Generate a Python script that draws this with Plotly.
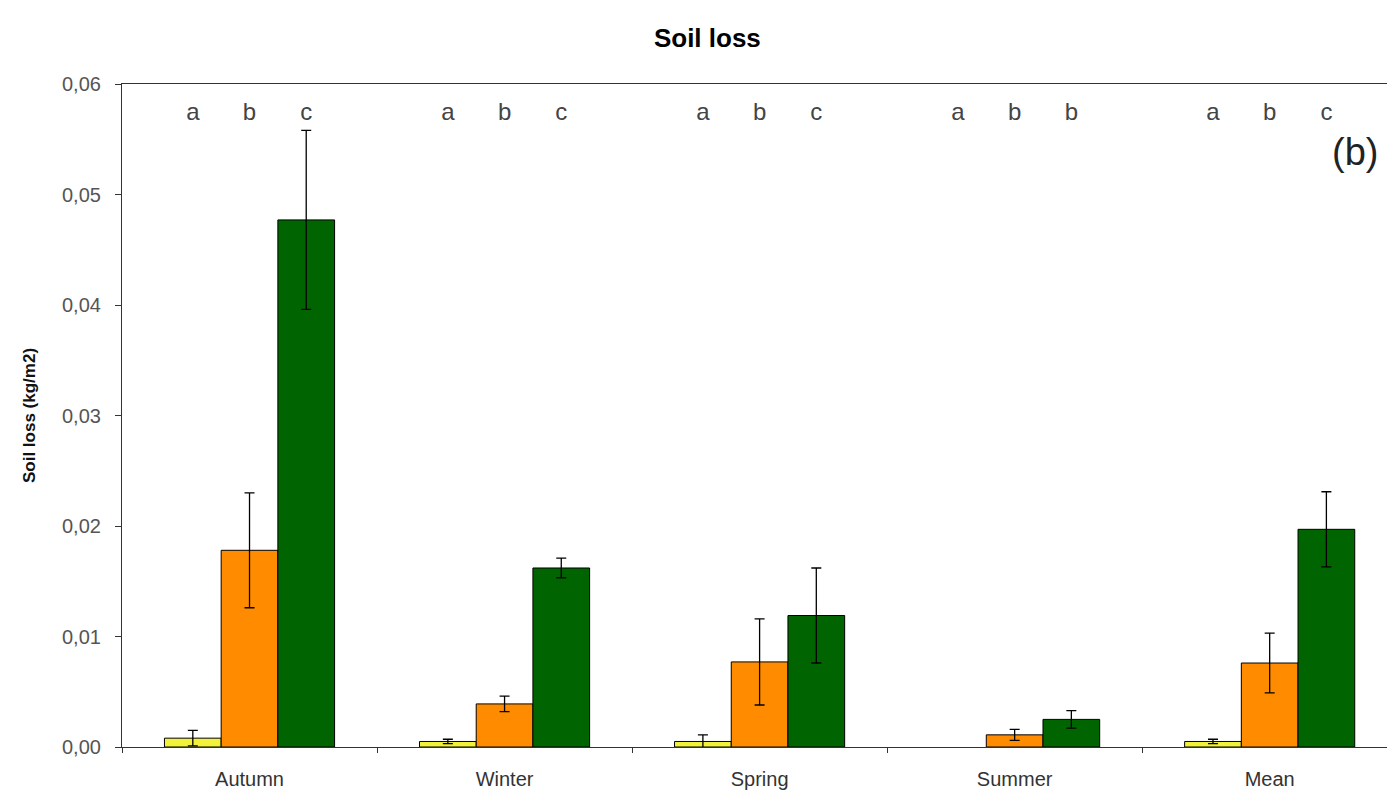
import plotly.graph_objects as go

categories = ["Autumn", "Winter", "Spring", "Summer", "Mean"]
series_names = ["Yellow", "Orange", "Green"]
yellow = [0.0008, 0.0005, 0.0005, None, 0.0005]
yellow_err = [0.0007, 0.0002, 0.0006, 0.0, 0.0002]
orange = [0.0178, 0.0039, 0.0077, 0.0011, 0.0076]
orange_err = [0.0052, 0.0007, 0.0039, 0.0005, 0.0027]
green = [0.0477, 0.0162, 0.0119, 0.0025, 0.0197]
green_err = [0.0081, 0.0009, 0.0043, 0.0008, 0.0034]
letters_yellow = ["a", "a", "a", "a", "a"]
letters_orange = ["b", "b", "b", "b", "b"]
letters_green = ["c", "c", "c", "b", "c"]
letter_y = 0.0573

values = [yellow, orange, green]
errors = [yellow_err, orange_err, green_err]
letters = [letters_yellow, letters_orange, letters_green]
colors = ["#F2F23A", "#FF8C00", "#006400"]

fig = go.Figure()
for i in range(3):
    fig.add_trace(go.Bar(
        x=categories, y=values[i], name=series_names[i],
        marker=dict(color=colors[i], line=dict(color="black", width=1)),
        error_y=dict(type="data", array=errors[i], color="black", thickness=1.3, width=5),
        offsetgroup=str(i), showlegend=False,
    ))
for i in range(3):
    fig.add_trace(go.Scatter(
        x=categories, y=[letter_y] * len(categories), mode="text",
        text=letters[i], textfont=dict(family="Arial, Liberation Sans", size=24, color="#444444"),
        offsetgroup=str(i), showlegend=False, hoverinfo="skip",
    ))

fig.update_layout(
    width=1387, height=800,
    margin=dict(l=122, r=0, t=84, b=53),
    paper_bgcolor="white", plot_bgcolor="white",
    barmode="group", bargap=0.333, bargroupgap=0,
    scattermode="group", scattergap=0.333,
    separators=", ",
    font=dict(family="Arial, Liberation Sans", color="#333333"),
    title=dict(text="<b>Soil loss</b>", x=0.51, xanchor="center", y=0.953, yanchor="middle",
               font=dict(size=26, color="black")),
    showlegend=False,
    annotations=[dict(text="(b)", xref="paper", yref="paper", x=0.9945, y=0.897,
                      xanchor="right", yanchor="middle", showarrow=False,
                      font=dict(size=38, color="#222222"))],
)
fig.update_xaxes(
    range=[-0.5, 4.46], showline=True, linecolor="#333333", linewidth=1.2, mirror=True,
    ticks="outside", tickson="boundaries", ticklen=5, tickcolor="#333333",
    tickfont=dict(size=20, color="#333333"), showgrid=False, ticklabelstandoff=14,
)
fig.update_yaxes(
    range=[0, 0.06], dtick=0.01, tickformat=".2f", showline=True, linecolor="#333333",
    linewidth=1.2, ticks="outside", ticklen=6, tickcolor="#333333",
    tickfont=dict(size=20, color="#555555"), showgrid=False, zeroline=False,
    ticklabelstandoff=10,
    title=dict(text="<b>Soil loss (kg/m2)</b>", font=dict(size=17, color="#111111"), standoff=22),
)
fig.write_html("out.html")
